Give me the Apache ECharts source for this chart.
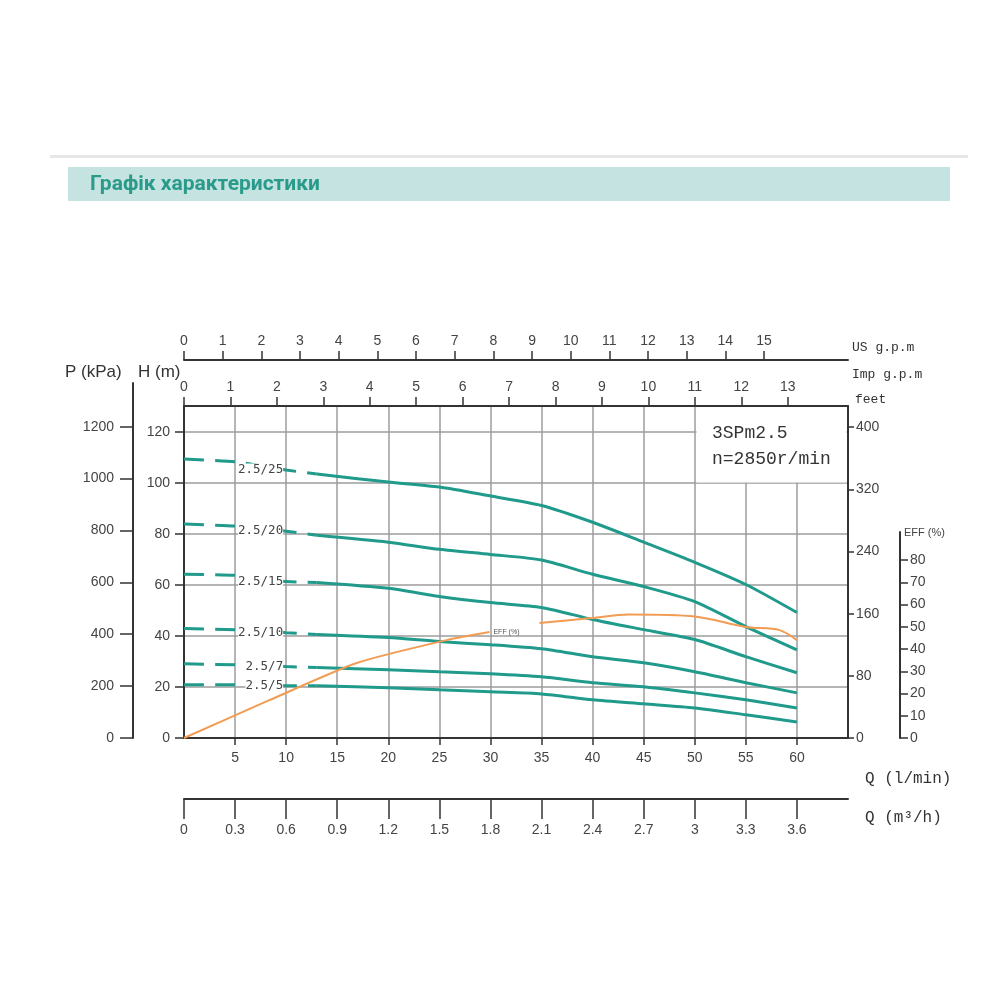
<!DOCTYPE html>
<html>
<head>
<meta charset="utf-8">
<title>Графік характеристики</title>
<script src="https://cdn.jsdelivr.net/npm/echarts@6/dist/echarts.min.js"></script>
<style>html,body{margin:0;padding:0;background:#fff}#mybox{width:1000px;height:1000px}</style>
</head>
<body>
<div id="mybox"></div>
<script>
// витрата Q, л/хв (спільна для всіх кривих)
var flow = [0, 5, 10, 13, 20, 25, 30, 35, 40, 45, 50, 55, 60];
var dashEnd = 3; // до 13 л/хв крива штрихова
var models = ['2.5/25', '2.5/20', '2.5/15', '2.5/10', '2.5/7', '2.5/5'];
// напір H, м
var head25 = [109.4, 108.3, 105.1, 103.5, 100.4, 98.4, 94.9, 91.2, 84.6, 76.8, 68.9, 60.2, 49.2];
var head20 = [83.9, 83.1, 81.1, 79.5, 76.8, 74.0, 72.0, 69.8, 64.2, 59.4, 53.5, 43.7, 34.6];
var head15 = [64.2, 63.8, 61.4, 61.0, 58.7, 55.5, 53.1, 51.2, 46.5, 42.5, 38.6, 31.9, 25.6];
var head10 = [42.9, 42.5, 41.3, 40.6, 39.4, 37.8, 36.6, 35.0, 31.9, 29.5, 26.0, 21.7, 17.7];
var head7 = [29.1, 28.7, 28.0, 27.6, 26.8, 26.0, 25.2, 24.0, 21.7, 20.1, 17.7, 15.0, 11.8];
var head5 = [20.9, 20.9, 20.5, 20.5, 19.7, 18.9, 18.1, 17.3, 15.0, 13.4, 11.8, 9.1, 6.3];
var heads = [head25, head20, head15, head10, head7, head5];
// ККД
var effFlow = [0, 8.4, 16.9, 25.7, 29.9, 34.8, 39.9, 43.5, 50, 55, 58.3, 60];
var effValue = [0, 17.1, 33.7, 44.0, 47.6, 51.7, 53.9, 55.5, 54.6, 49.9, 48.5, 44.0];
var effGap = 4; // розрив лінії під підписом EFF (%)
// поділки осей
var lminTicks = [5, 10, 15, 20, 25, 30, 35, 40, 45, 50, 55, 60];
var m3hTicks = [0, 0.3, 0.6, 0.9, 1.2, 1.5, 1.8, 2.1, 2.4, 2.7, 3, 3.3, 3.6];
var usTicks = [0, 1, 2, 3, 4, 5, 6, 7, 8, 9, 10, 11, 12, 13, 14, 15];
var impTicks = [0, 1, 2, 3, 4, 5, 6, 7, 8, 9, 10, 11, 12, 13];
var hTicks = [0, 20, 40, 60, 80, 100, 120];
var pTicks = [0, 200, 400, 600, 800, 1000, 1200];
var feetTicks = [0, 80, 160, 240, 320, 400];
var effTicks = [0, 10, 20, 30, 40, 50, 60, 70, 80];

var qMax = 65, hMax = 130.2;
var teal = '#1f9a8b', orange = '#f29b52', ink = '#333', grey = '#9c9c9c';
var lbl = {color: '#444', fontSize: 14, fontFamily: 'Liberation Sans', formatter: function (v) { return String(v); }};

function pairs(xs, ys, a, b) {
    var out = [];
    for (var i = a; i < b; i++) out.push([xs[i], ys[i]]);
    return out;
}
function valAxis(extra) {
    var base = {
        type: 'value', min: 0,
        axisLine: {show: true, onZero: false, lineStyle: {color: ink, width: 2}},
        splitLine: {show: false},
        axisTick: {show: true, lineStyle: {color: ink, width: 1.5}},
        axisLabel: Object.assign({}, lbl)
    };
    for (var k in extra) {
        if (typeof extra[k] === 'object' && base[k] && !Array.isArray(extra[k])) base[k] = Object.assign({}, base[k], extra[k]);
        else base[k] = extra[k];
    }
    return base;
}

var series = [];
models.forEach(function (name, m) {
    var h = heads[m];
    var dash = pairs(flow, h, 0, dashEnd + 1);
    dash[2] = {value: dash[2], label: {show: true, formatter: name, position: 'left', distance: 3,
        color: '#444', fontSize: 12.5, fontFamily: 'DejaVu Sans Mono', backgroundColor: '#fff', padding: [0, 0]}};
    series.push({type: 'line', name: name, data: dash, symbol: 'circle', symbolSize: 0, showSymbol: true, smooth: 0.2,
        lineStyle: {color: teal, width: 3, type: [20, 11]}, itemStyle: {color: teal}, z: 3});
    series.push({type: 'line', name: name, data: pairs(flow, h, dashEnd, flow.length), symbol: 'none', smooth: 0.25,
        lineStyle: {color: teal, width: 3}, z: 3});
});
var eff1 = pairs(effFlow, effValue, 0, effGap + 1);
eff1[effGap] = {value: eff1[effGap], label: {show: true, formatter: 'EFF (%)', position: 'right', distance: 4,
    fontSize: 7, color: '#555', fontFamily: 'Liberation Sans'}};
series.push({type: 'line', name: 'EFF', xAxisIndex: 5, yAxisIndex: 3, data: eff1, symbol: 'circle', symbolSize: 0,
    showSymbol: true, smooth: 0.2, lineStyle: {color: orange, width: 2}, itemStyle: {color: orange}, z: 4});
series.push({type: 'line', name: 'EFF', xAxisIndex: 5, yAxisIndex: 3, data: pairs(effFlow, effValue, effGap + 1, effFlow.length),
    symbol: 'none', smooth: 0.3, lineStyle: {color: orange, width: 2}, z: 4});

var mycharts = echarts.init(document.getElementById('mybox'));
var option = {
    animation: false,
    backgroundColor: '#fff',
    grid: [
        {left: 184, right: 152, top: 406, bottom: 262},
        {left: 184, right: 152, top: 383, bottom: 262},
        {left: 184, right: 152, top: 532, bottom: 262}
    ],
    xAxis: [
        valAxis({gridIndex: 0, position: 'bottom', max: qMax, interval: 5,
            splitLine: {show: true, lineStyle: {color: grey, width: 1.5}},
            axisTick: {customValues: lminTicks, length: 7},
            axisLabel: {customValues: lminTicks, margin: 13}}),
        valAxis({gridIndex: 0, position: 'bottom', offset: 61, max: qMax * 0.06,
            axisTick: {customValues: m3hTicks, length: 20},
            axisLabel: {customValues: m3hTicks, margin: 24}}),
        valAxis({gridIndex: 0, position: 'top', max: qMax / 4.54609,
            axisTick: {customValues: impTicks, length: 9},
            axisLabel: {customValues: impTicks, margin: 12}}),
        valAxis({gridIndex: 0, position: 'top', offset: 46, max: qMax / 3.78541,
            axisTick: {customValues: usTicks, length: 9},
            axisLabel: {customValues: usTicks, margin: 12}}),
        {type: 'value', gridIndex: 1, min: 0, max: qMax, show: false},
        {type: 'value', gridIndex: 2, min: 0, max: qMax, show: false}
    ],
    yAxis: [
        valAxis({gridIndex: 0, position: 'left', max: hMax, interval: 20,
            splitLine: {show: true, lineStyle: {color: grey, width: 1.5}},
            axisTick: {customValues: hTicks, length: 9},
            axisLabel: {customValues: hTicks, margin: 14}}),
        valAxis({gridIndex: 0, position: 'right', max: hMax * 3.28084,
            axisTick: {customValues: feetTicks, length: 6},
            axisLabel: {customValues: feetTicks, margin: 8}}),
        valAxis({gridIndex: 1, position: 'left', offset: 51, max: (738 - 383) / 0.2594,
            axisTick: {customValues: pTicks, length: 13},
            axisLabel: {customValues: pTicks, margin: 19}}),
        valAxis({gridIndex: 2, position: 'right', offset: 52, max: 92.6,
            axisTick: {customValues: effTicks, length: 8},
            axisLabel: {customValues: effTicks, margin: 10}})
    ],
    graphic: [
        {type: 'rect', shape: {x: 50, y: 155, width: 918, height: 3}, style: {fill: '#e7e7e7'}},
        {type: 'rect', shape: {x: 68, y: 167, width: 882, height: 34}, style: {fill: '#c5e3e0'}},
        {type: 'text', x: 90, y: 185, style: {text: 'Графік характеристики', fill: '#2a9a8a',
            font: 'bold 21px Roboto', verticalAlign: 'middle'}},
        // білий фон під підписом моделі
        {type: 'rect', z: 1, shape: {x: 696.5, y: 407, width: 150, height: 75.5}, style: {fill: '#fff'}},
        {type: 'text', z: 5, x: 712, y: 433, style: {text: '3SPm2.5', fill: '#333', font: '18px Liberation Mono', verticalAlign: 'middle'}},
        {type: 'text', z: 5, x: 712, y: 459, style: {text: 'n=2850r/min', fill: '#333', font: '18px Liberation Mono', verticalAlign: 'middle'}},
        {type: 'text', x: 65, y: 372, style: {text: 'P (kPa)', fill: '#333', font: '17px Liberation Sans', verticalAlign: 'middle'}},
        {type: 'text', x: 138, y: 372, style: {text: 'H (m)', fill: '#333', font: '17px Liberation Sans', verticalAlign: 'middle'}},
        {type: 'text', x: 852, y: 348, style: {text: 'US g.p.m', fill: '#333', font: '13px Liberation Mono', verticalAlign: 'middle'}},
        {type: 'text', x: 852, y: 375, style: {text: 'Imp g.p.m', fill: '#333', font: '13px Liberation Mono', verticalAlign: 'middle'}},
        {type: 'text', x: 855, y: 400, style: {text: 'feet', fill: '#333', font: '13px Liberation Mono', verticalAlign: 'middle'}},
        {type: 'text', x: 904, y: 533, style: {text: 'EFF (%)', fill: '#444', font: '11px Liberation Sans', verticalAlign: 'middle'}},
        {type: 'text', x: 865, y: 779, style: {text: 'Q (l/min)', fill: '#333', font: '16px Liberation Mono', verticalAlign: 'middle'}},
        {type: 'text', x: 865, y: 818, style: {text: 'Q (m³/h)', fill: '#333', font: '16px Liberation Mono', verticalAlign: 'middle'}}
    ],
    series: series
};
mycharts.setOption(option);
</script>
</body>
</html>
